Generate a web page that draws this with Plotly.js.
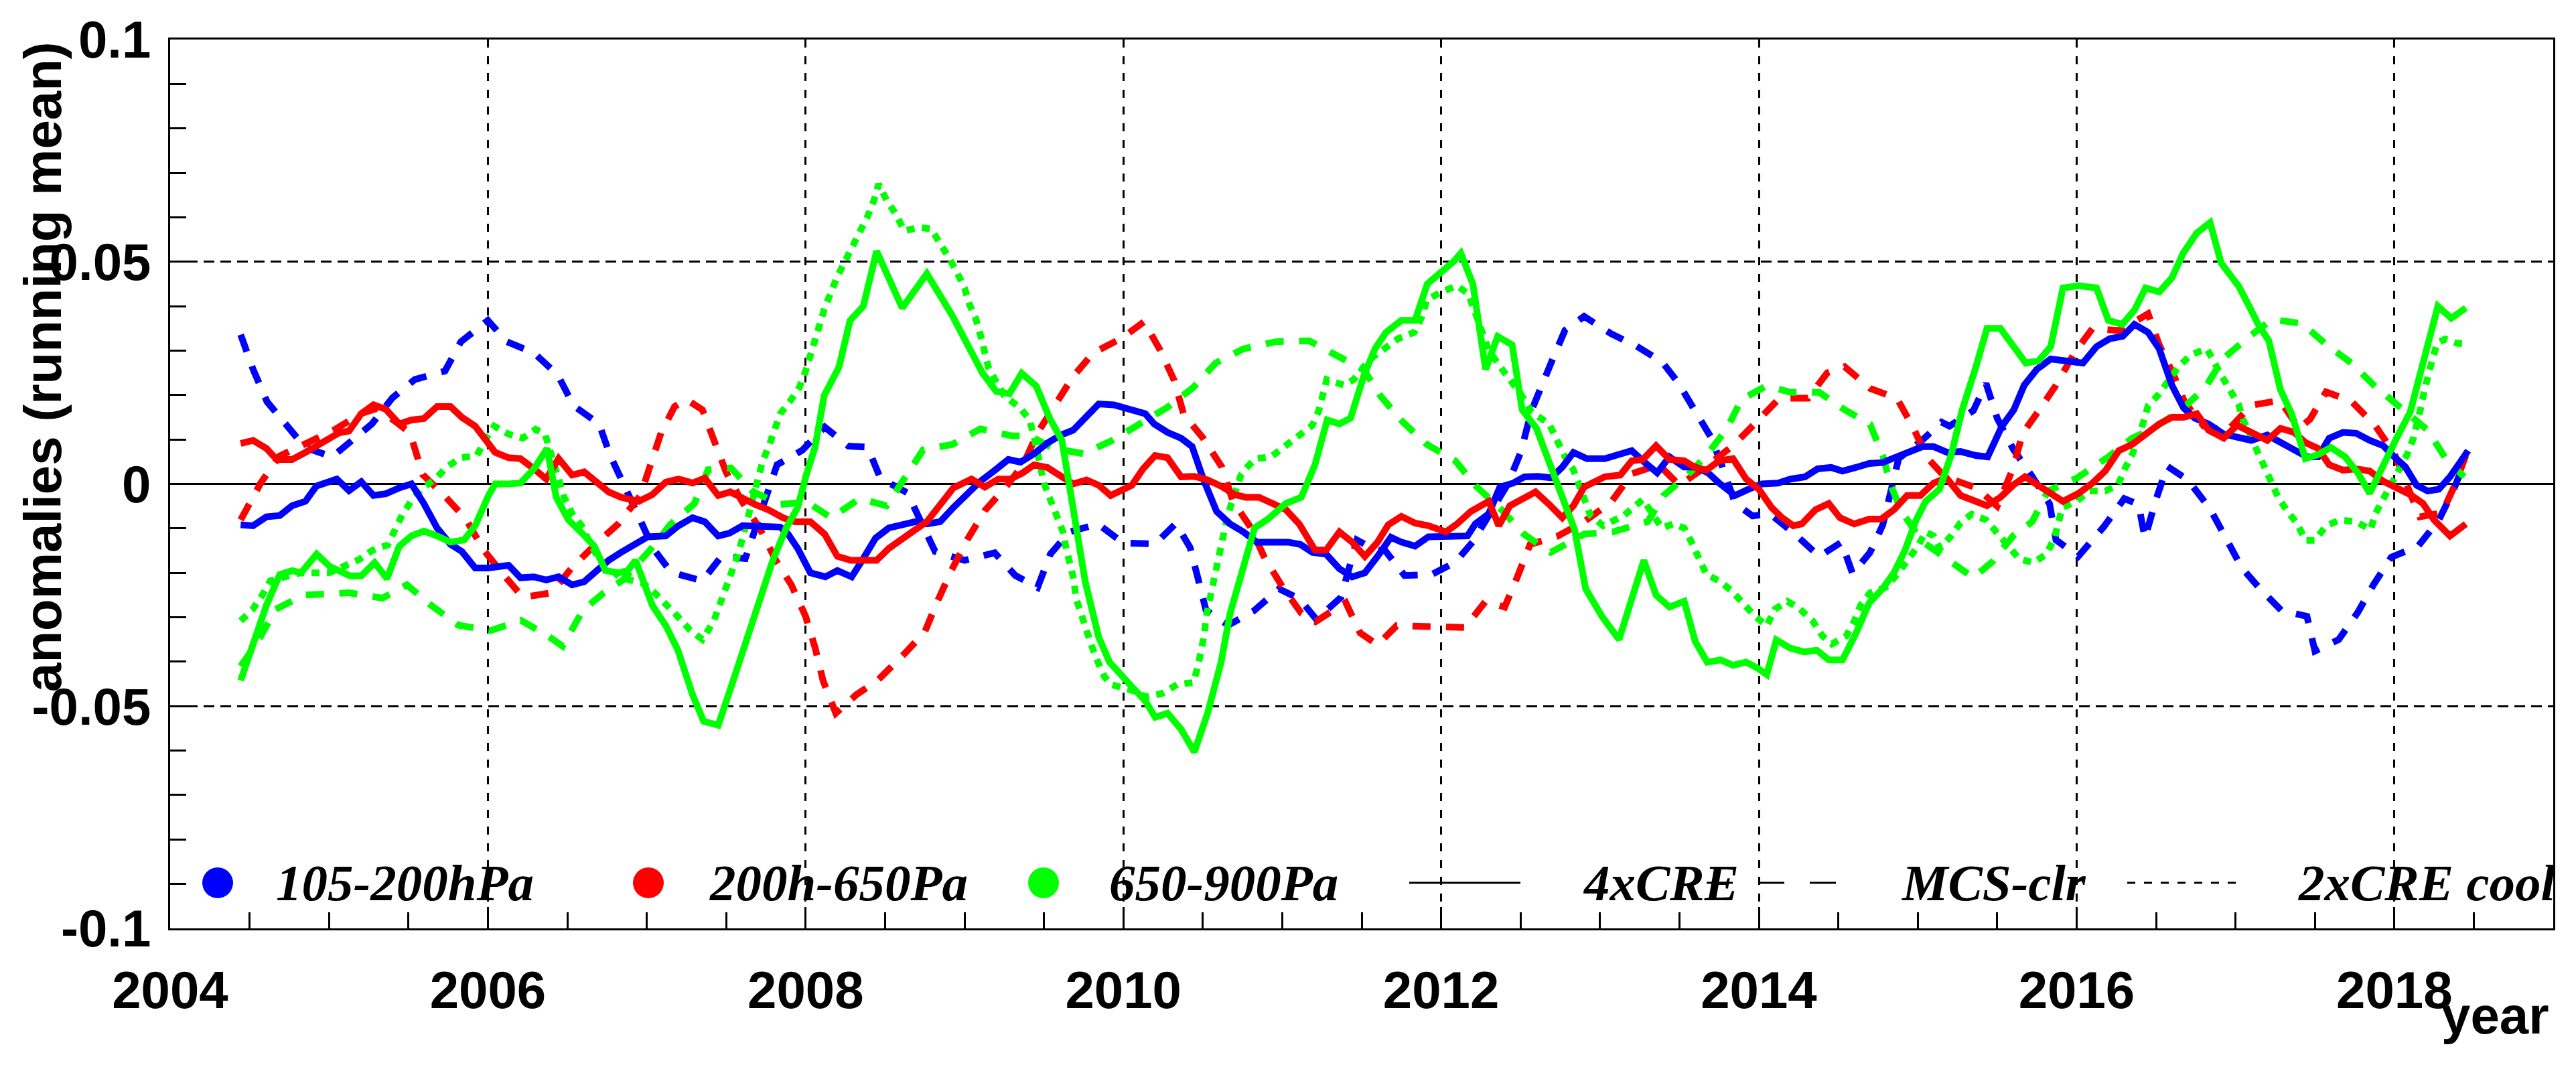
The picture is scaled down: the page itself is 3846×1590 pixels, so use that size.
<!DOCTYPE html>
<html>
<head>
<meta charset="utf-8">
<script src="https://cdn.plot.ly/plotly-3.0.1.min.js"></script>
<style>html,body{margin:0;padding:0;background:#fff;}#chart{width:3846px;height:1590px;}</style>
</head>
<body>
<div id="chart"></div>
<script>
// ---------- DATA (decimal year, anomaly) ----------
// 105-200hPa, 4xCRE (blue solid)
const x_b_cre = [2004.444,2004.522,2004.606,2004.69,2004.768,2004.852,2004.92,2005.049,2005.126,2005.203,2005.28,2005.358,2005.442,2005.519,2005.597,2005.68,2005.765,2005.836,2005.92,2006.0,2006.13,2006.205,2006.29,2006.367,2006.445,2006.53,2006.606,2006.683,2006.76,2006.838,2006.922,2007.006,2007.12,2007.2,2007.288,2007.365,2007.45,2007.52,2007.604,2007.68,2007.758,2007.84,2007.89,2007.95,2008.03,2008.124,2008.2,2008.29,2008.356,2008.44,2008.524,2008.608,2008.69,2008.763,2008.847,2008.93,2009.016,2009.1,2009.185,2009.276,2009.353,2009.438,2009.522,2009.606,2009.684,2009.76,2009.845,2009.94,2010.053,2010.138,2010.194,2010.278,2010.363,2010.433,2010.503,2010.587,2010.672,2010.756,2010.84,2010.94,2011.037,2011.114,2011.19,2011.276,2011.36,2011.44,2011.52,2011.6,2011.684,2011.75,2011.836,2011.92,2012.004,2012.09,2012.166,2012.215,2012.3,2012.37,2012.454,2012.524,2012.61,2012.693,2012.763,2012.833,2012.918,2013.03,2013.114,2013.2,2013.283,2013.36,2013.437,2013.53,2013.6,2013.68,2013.75,2013.85,2013.935,2014.02,2014.12,2014.2,2014.29,2014.37,2014.455,2014.526,2014.61,2014.694,2014.778,2014.863,2014.933,2015.03,2015.1,2015.186,2015.27,2015.366,2015.44,2015.53,2015.605,2015.67,2015.75,2015.837,2015.93,2016.04,2016.125,2016.21,2016.29,2016.364,2016.45,2016.52,2016.6,2016.673,2016.743,2016.83,2016.926,2017.02,2017.1,2017.2,2017.3,2017.38,2017.45,2017.52,2017.59,2017.677,2017.76,2017.845,2017.93,2018.0,2018.07,2018.14,2018.21,2018.28,2018.35,2018.42,2018.464];
const y_b_cre = [-0.0092,-0.0094,-0.0074,-0.0071,-0.0049,-0.0039,-0.0005,0.0011,-0.0015,0.0005,-0.0026,-0.0022,-0.0009,0.0,-0.0044,-0.0099,-0.0136,-0.0152,-0.0189,-0.0189,-0.0183,-0.0211,-0.0209,-0.0216,-0.0209,-0.0227,-0.022,-0.0195,-0.0172,-0.0154,-0.0137,-0.0119,-0.0117,-0.0094,-0.0076,-0.0085,-0.0117,-0.0111,-0.0094,-0.0094,-0.0094,-0.0097,-0.0113,-0.0145,-0.0200,-0.0209,-0.0195,-0.0209,-0.0172,-0.0122,-0.0099,-0.009,-0.0085,-0.009,-0.0085,-0.0053,-0.0024,0.0006,0.0029,0.0055,0.0049,0.0068,0.0092,0.011,0.0121,0.015,0.018,0.0178,0.0168,0.0158,0.0135,0.0116,0.0103,0.0084,0.0011,-0.0062,-0.009,-0.0108,-0.0131,-0.0131,-0.0131,-0.0136,-0.0154,-0.0158,-0.0191,-0.0209,-0.02,-0.0163,-0.012,-0.0131,-0.014,-0.0119,-0.0119,-0.0117,-0.0117,-0.009,-0.0067,-0.0007,0.0002,0.0016,0.0017,0.0014,0.0038,0.0071,0.0057,0.0057,0.0066,0.0075,0.0048,0.0025,0.0061,0.0038,0.0038,0.0025,0.0002,-0.0026,-0.0012,0.0,0.0002,0.0011,0.0016,0.0034,0.0037,0.0029,0.0037,0.0046,0.0048,0.0061,0.0071,0.0084,0.0084,0.0071,0.0073,0.0064,0.0061,0.013,0.0167,0.0222,0.0258,0.0281,0.0277,0.0272,0.0309,0.0327,0.0332,0.0359,0.0341,0.0304,0.0222,0.0171,0.0148,0.0135,0.0112,0.0103,0.0098,0.011,0.0089,0.0075,0.0061,0.0061,0.0103,0.0116,0.0114,0.0098,0.0086,0.0061,0.0038,-0.0003,-0.0016,-0.0012,0.0016,0.0052,0.0075];

// 200h-650Pa, 4xCRE (red solid)
const x_r_cre = [2004.444,2004.522,2004.606,2004.655,2004.69,2004.768,2004.852,2004.908,2004.978,2005.063,2005.126,2005.203,2005.28,2005.358,2005.442,2005.519,2005.597,2005.68,2005.765,2005.836,2005.92,2006.004,2006.046,2006.13,2006.205,2006.29,2006.367,2006.445,2006.53,2006.606,2006.683,2006.76,2006.838,2006.95,2007.035,2007.12,2007.2,2007.288,2007.365,2007.45,2007.526,2007.604,2007.68,2007.765,2007.857,2007.934,2008.03,2008.12,2008.2,2008.285,2008.37,2008.447,2008.524,2008.608,2008.69,2008.763,2008.847,2008.93,2009.044,2009.128,2009.213,2009.29,2009.367,2009.438,2009.522,2009.606,2009.684,2009.768,2009.845,2009.92,2010.01,2010.053,2010.124,2010.2,2010.278,2010.363,2010.447,2010.53,2010.615,2010.7,2010.77,2010.854,2010.94,2011.023,2011.107,2011.206,2011.276,2011.36,2011.44,2011.52,2011.6,2011.667,2011.75,2011.836,2011.92,2012.03,2012.1,2012.187,2012.3,2012.363,2012.433,2012.51,2012.594,2012.68,2012.763,2012.833,2012.9,2013.03,2013.128,2013.2,2013.27,2013.353,2013.437,2013.53,2013.6,2013.67,2013.75,2013.837,2013.92,2014.0,2014.08,2014.146,2014.216,2014.27,2014.357,2014.44,2014.51,2014.6,2014.694,2014.77,2014.85,2014.933,2015.017,2015.1,2015.18,2015.27,2015.35,2015.436,2015.52,2015.6,2015.675,2015.76,2015.837,2015.914,2016.013,2016.1,2016.18,2016.266,2016.35,2016.434,2016.52,2016.6,2016.673,2016.757,2016.83,2016.926,2017.01,2017.1,2017.2,2017.283,2017.37,2017.44,2017.52,2017.59,2017.677,2017.76,2017.845,2017.93,2018.014,2018.1,2018.18,2018.25,2018.35,2018.45];
const y_r_cre = [0.0091,0.0098,0.008,0.0061,0.0055,0.0055,0.0071,0.0082,0.0098,0.0115,0.0119,0.0158,0.0178,0.0168,0.0135,0.0144,0.0147,0.0174,0.0174,0.015,0.013,0.0093,0.0071,0.0059,0.0057,0.0034,0.0011,0.0057,0.002,0.0027,0.0002,-0.0018,-0.003,-0.0039,-0.0024,0.0004,0.0011,0.0002,0.0013,-0.0026,-0.0018,-0.0033,-0.0046,-0.0058,-0.0076,-0.0085,-0.0085,-0.0113,-0.0163,-0.0172,-0.0172,-0.0172,-0.0145,-0.0122,-0.0103,-0.0085,-0.0049,-0.0009,0.0011,-0.0007,0.0011,0.0011,0.0025,0.0043,0.0037,0.0016,0.0,0.0009,-0.0003,-0.0026,-0.0012,-0.0003,0.0034,0.0064,0.0059,0.0016,0.0017,0.0009,-0.0005,-0.0024,-0.003,-0.003,-0.0044,-0.0058,-0.009,-0.0149,-0.0149,-0.0108,-0.0131,-0.0163,-0.0131,-0.0092,-0.0073,-0.0088,-0.0094,-0.0108,-0.009,-0.0062,-0.0039,-0.0094,-0.0049,-0.0033,-0.0018,-0.0046,-0.0076,-0.0049,-0.0007,0.0016,0.002,0.0052,0.0055,0.0086,0.0055,0.0052,0.0037,0.0031,0.0052,0.0057,0.0011,-0.0012,-0.0053,-0.0076,-0.0094,-0.009,-0.0058,-0.0044,-0.0076,-0.009,-0.0079,-0.0079,-0.0058,-0.0026,-0.0026,0.0002,0.0014,-0.0026,-0.0039,-0.0049,-0.003,-0.0003,0.0016,-0.0003,-0.0021,-0.0039,-0.0021,0.0002,0.0029,0.0075,0.0089,0.0112,0.0135,0.015,0.015,0.0158,0.0121,0.0103,0.0132,0.0116,0.0098,0.0125,0.0116,0.0093,0.008,0.0043,0.0031,0.0034,0.0029,0.0006,-0.0007,-0.0024,-0.0044,-0.0081,-0.0117,-0.009];

// 650-900Pa, 4xCRE (green solid)
const x_g_cre = [2004.444,2004.522,2004.606,2004.69,2004.768,2004.824,2004.922,2005.006,2005.077,2005.133,2005.203,2005.287,2005.365,2005.442,2005.519,2005.597,2005.68,2005.765,2005.85,2005.92,2006.004,2006.046,2006.13,2006.205,2006.29,2006.373,2006.43,2006.507,2006.585,2006.67,2006.74,2006.824,2006.88,2006.93,2007.035,2007.12,2007.196,2007.288,2007.358,2007.45,2007.54,2007.625,2007.71,2007.793,2007.878,2007.95,2008.004,2008.06,2008.117,2008.21,2008.28,2008.363,2008.447,2008.608,2008.763,2008.918,2009.114,2009.2,2009.283,2009.36,2009.452,2009.536,2009.613,2009.69,2009.76,2009.845,2009.913,2010.053,2010.138,2010.2,2010.278,2010.363,2010.447,2010.53,2010.615,2010.672,2010.756,2010.826,2010.91,2011.023,2011.12,2011.206,2011.283,2011.36,2011.43,2011.515,2011.585,2011.653,2011.75,2011.836,2011.913,2012.0,2012.08,2012.124,2012.2,2012.28,2012.356,2012.447,2012.51,2012.6,2012.693,2012.79,2012.84,2012.91,2013.016,2013.12,2013.276,2013.353,2013.437,2013.53,2013.6,2013.675,2013.76,2013.837,2013.92,2013.99,2014.05,2014.11,2014.195,2014.287,2014.364,2014.44,2014.526,2014.61,2014.694,2014.778,2014.85,2014.92,2014.99,2015.05,2015.137,2015.21,2015.28,2015.366,2015.436,2015.52,2015.605,2015.68,2015.76,2015.837,2015.914,2016.013,2016.125,2016.2,2016.287,2016.364,2016.434,2016.52,2016.6,2016.67,2016.757,2016.84,2016.91,2017.02,2017.086,2017.143,2017.21,2017.283,2017.353,2017.44,2017.52,2017.6,2017.69,2017.77,2017.845,2017.93,2018.014,2018.1,2018.18,2018.23,2018.274,2018.358,2018.45];
const y_g_cre = [-0.0442,-0.0355,-0.0273,-0.0204,-0.0195,-0.02,-0.0158,-0.0186,-0.02,-0.0207,-0.0207,-0.0177,-0.0213,-0.014,-0.0117,-0.0106,-0.0117,-0.0131,-0.0126,-0.0094,-0.0026,0.0,0.0,0.0002,0.0034,0.008,-0.003,-0.0081,-0.0108,-0.014,-0.0195,-0.02,-0.0195,-0.0172,-0.0273,-0.0319,-0.0374,-0.0474,-0.0534,-0.0543,-0.0447,-0.0355,-0.0264,-0.0172,-0.0099,-0.0053,0.002,0.0084,0.0199,0.0263,0.0368,0.04,0.0524,0.0396,0.0473,0.0382,0.0249,0.0208,0.0203,0.0249,0.022,0.0148,0.0098,-0.0062,-0.022,-0.0345,-0.0401,-0.0456,-0.0488,-0.0525,-0.0516,-0.0552,-0.0603,-0.0516,-0.0401,-0.0291,-0.019,-0.0099,-0.0079,-0.0044,-0.003,0.0043,0.0144,0.0135,0.0148,0.0245,0.0305,0.0341,0.0368,0.0368,0.045,0.0475,0.0501,0.0519,0.045,0.0258,0.0332,0.0313,0.0167,0.0125,0.0038,-0.0062,-0.0103,-0.0236,-0.03,-0.035,-0.0172,-0.025,-0.0277,-0.0264,-0.0355,-0.0401,-0.0396,-0.0408,-0.0401,-0.0414,-0.0429,-0.0351,-0.0369,-0.0378,-0.0374,-0.0396,-0.0396,-0.0337,-0.0268,-0.0236,-0.02,-0.0149,-0.0081,-0.0039,-0.0012,0.0065,0.0167,0.0263,0.035,0.035,0.0309,0.0272,0.0277,0.0309,0.0441,0.0446,0.0441,0.0368,0.0359,0.0391,0.0441,0.0432,0.0464,0.0519,0.0565,0.0588,0.0497,0.0445,0.04,0.0359,0.0322,0.0212,0.0158,0.0057,0.0066,0.0082,0.0061,0.0025,-0.0021,0.0043,0.0103,0.0162,0.0267,0.0332,0.04,0.0373,0.0396];

// 105-200hPa, MCS-clr (blue dashed)
const x_b_mcs = [2004.444,2004.522,2004.61,2004.729,2004.85,2005.02,2005.15,2005.27,2005.4,2005.54,2005.73,2005.83,2006.0,2006.12,2006.29,2006.44,2006.54,2006.7,2006.77,2006.86,2006.95,2007.04,2007.154,2007.35,2007.47,2007.62,2007.75,2007.82,2007.98,2008.12,2008.27,2008.39,2008.47,2008.64,2008.815,2009.0,2009.19,2009.32,2009.46,2009.54,2009.66,2009.84,2010.0,2010.2,2010.33,2010.42,2010.47,2010.52,2010.66,2010.82,2010.98,2011.11,2011.215,2011.37,2011.47,2011.58,2011.65,2011.77,2011.94,2012.09,2012.2,2012.3,2012.42,2012.5,2012.57,2012.7,2012.78,2012.9,2013.07,2013.23,2013.39,2013.49,2013.597,2013.7,2013.77,2013.85,2013.96,2014.07,2014.23,2014.38,2014.52,2014.59,2014.7,2014.78,2014.88,2015.03,2015.15,2015.2,2015.35,2015.43,2015.5,2015.6,2015.72,2015.83,2015.87,2016.01,2016.17,2016.3,2016.39,2016.43,2016.5,2016.57,2016.7,2016.84,2016.94,2017.04,2017.15,2017.29,2017.45,2017.5,2017.65,2017.77,2017.87,2017.98,2018.15,2018.28,2018.37,2018.45];
const y_b_mcs = [0.0336,0.0258,0.0185,0.0135,0.0082,0.0061,0.0098,0.0135,0.0194,0.0235,0.0254,0.032,0.0368,0.032,0.0295,0.0245,0.0176,0.0135,0.0064,-0.0002,-0.0074,-0.0145,-0.0199,-0.0218,-0.0163,-0.0168,-0.0037,0.0043,0.0076,0.0128,0.0085,0.0083,0.0013,-0.002,-0.0152,-0.0172,-0.0155,-0.0206,-0.0233,-0.0158,-0.0108,-0.009,-0.0133,-0.0135,-0.0089,-0.0143,-0.0213,-0.0284,-0.0318,-0.0286,-0.0236,-0.0259,-0.0305,-0.0255,-0.0126,-0.0148,-0.0151,-0.0206,-0.0204,-0.0176,-0.013,-0.007,0.0,0.007,0.0166,0.0279,0.0346,0.0377,0.0338,0.031,0.0275,0.0229,0.0163,0.0104,0.0039,-0.0043,-0.0072,-0.0067,-0.0114,-0.0163,-0.0131,-0.0202,-0.0154,-0.0092,0.0057,0.0099,0.0139,0.013,0.0165,0.0226,0.0148,0.0079,0.0017,-0.0045,-0.0126,-0.0163,-0.0097,-0.0033,-0.0046,-0.0122,-0.0035,0.004,0.0009,-0.0056,-0.0122,-0.0189,-0.0234,-0.0285,-0.0298,-0.0376,-0.035,-0.0289,-0.0226,-0.0165,-0.014,-0.0081,-0.0016,0.0057];

// 200h-650Pa, MCS-clr (red dashed)
const x_r_mcs = [2004.444,2004.57,2004.69,2004.85,2005.03,2005.2,2005.3,2005.42,2005.51,2005.59,2005.72,2005.86,2005.97,2006.1,2006.22,2006.4,2006.53,2006.68,2006.82,2006.96,2007.02,2007.09,2007.175,2007.25,2007.35,2007.425,2007.5,2007.6,2007.71,2007.81,2007.91,2008.0,2008.06,2008.11,2008.19,2008.32,2008.45,2008.62,2008.75,2008.83,2008.92,2009.02,2009.13,2009.26,2009.37,2009.46,2009.57,2009.68,2009.81,2009.99,2010.13,2010.23,2010.32,2010.38,2010.5,2010.62,2010.69,2010.8,2010.89,2011.0,2011.12,2011.21,2011.3,2011.4,2011.49,2011.6,2011.72,2011.96,2012.15,2012.28,2012.4,2012.48,2012.56,2012.73,2012.9,2013.07,2013.2,2013.37,2013.5,2013.67,2013.84,2013.97,2014.13,2014.31,2014.43,2014.54,2014.7,2014.87,2014.97,2015.06,2015.17,2015.37,2015.5,2015.6,2015.66,2015.76,2015.87,2015.99,2016.1,2016.27,2016.45,2016.52,2016.61,2016.68,2016.8,2016.95,2017.1,2017.28,2017.4,2017.47,2017.57,2017.73,2017.88,2018.0,2018.08,2018.16,2018.3,2018.38,2018.45];
const y_r_mcs = [-0.0081,0.0002,0.0063,0.0091,0.0121,0.0158,0.017,0.014,0.0115,0.0021,-0.0024,-0.0078,-0.0147,-0.0205,-0.0255,-0.0245,-0.0188,-0.0135,-0.009,-0.0026,0.0038,0.0115,0.0174,0.019,0.0167,0.0098,0.0026,-0.004,-0.0099,-0.017,-0.0227,-0.0298,-0.0369,-0.0443,-0.0516,-0.0474,-0.0443,-0.0383,-0.0333,-0.0264,-0.0193,-0.0124,-0.0059,-0.0007,0.0044,0.0115,0.0176,0.024,0.0295,0.0328,0.0365,0.0302,0.0233,0.0156,0.0104,0.0038,-0.0039,-0.0097,-0.0167,-0.0231,-0.0291,-0.031,-0.0289,-0.0267,-0.0335,-0.0362,-0.0319,-0.0323,-0.0323,-0.0264,-0.0277,-0.0209,-0.0136,-0.0118,-0.0085,-0.0041,0.0023,0.0043,-0.0003,0.004,0.0087,0.0134,0.0193,0.0193,0.025,0.0264,0.0215,0.0192,0.0128,0.0059,0.0016,-0.0009,-0.005,0.0035,0.0114,0.0164,0.0222,0.0297,0.035,0.0345,0.0383,0.0313,0.0246,0.0184,0.013,0.012,0.0177,0.0188,0.0125,0.0146,0.0207,0.0186,0.0131,0.0068,0.0,-0.0074,-0.0065,-0.0003,0.0064];

// 650-900Pa, MCS-clr (green dashed)
const x_g_mcs = [2004.444,2004.55,2004.664,2004.845,2005.126,2005.336,2005.49,2005.65,2005.815,2006.018,2006.208,2006.37,2006.47,2006.6,2006.73,2006.85,2007.02,2007.147,2007.3,2007.386,2007.53,2007.667,2007.84,2008.01,2008.16,2008.34,2008.51,2008.625,2008.74,2008.925,2009.1,2009.3,2009.41,2009.56,2009.75,2009.93,2010.1,2010.28,2010.44,2010.58,2010.756,2010.96,2011.17,2011.33,2011.515,2011.62,2011.76,2011.91,2012.09,2012.22,2012.38,2012.52,2012.69,2012.9,2013.08,2013.3,2013.4,2013.54,2013.67,2013.8,2013.89,2014.05,2014.2,2014.38,2014.54,2014.7,2014.78,2014.83,2014.9,2015.03,2015.18,2015.35,2015.47,2015.6,2015.72,2015.82,2016.0,2016.2,2016.35,2016.48,2016.66,2016.81,2016.92,2017.08,2017.23,2017.42,2017.58,2017.73,2017.88,2018.05,2018.21,2018.33,2018.44];
const y_g_mcs = [-0.041,-0.0356,-0.0282,-0.025,-0.0245,-0.0257,-0.0227,-0.0275,-0.0318,-0.033,-0.0307,-0.034,-0.0365,-0.0283,-0.0245,-0.0216,-0.0149,-0.0092,-0.0044,0.0032,0.0036,-0.0017,-0.0046,-0.0041,-0.0076,-0.0033,-0.0049,0.0016,0.0077,0.0089,0.0124,0.0108,0.0108,0.008,0.0068,0.0098,0.0134,0.0173,0.0217,0.0272,0.0304,0.032,0.0322,0.0291,0.0256,0.0197,0.0139,0.0089,0.0052,-0.0005,-0.0058,-0.0113,-0.0154,-0.0113,-0.0108,-0.0085,-0.0026,0.0016,0.0064,0.0125,0.019,0.0221,0.0206,0.0206,0.0167,0.0134,0.0064,-0.0003,-0.0063,-0.013,-0.017,-0.0211,-0.0175,-0.0117,-0.0085,-0.0016,0.0013,0.0061,0.0103,0.0124,0.0167,0.0217,0.0281,0.033,0.037,0.0361,0.0311,0.0272,0.0219,0.0169,0.0121,0.0053,0.0016];

// 650-900Pa, 2xCRE cool (green dotted)
const x_g_cool = [2004.444,2004.52,2004.58,2004.63,2004.82,2005.0,2005.19,2005.27,2005.37,2005.41,2005.46,2005.52,2005.59,2005.67,2005.74,2005.83,2005.93,2005.98,2006.04,2006.13,2006.22,2006.3,2006.36,2006.42,2006.48,2006.53,2006.59,2006.64,2006.7,2006.83,2006.98,2007.05,2007.13,2007.2,2007.27,2007.35,2007.42,2007.46,2007.49,2007.53,2007.57,2007.6,2007.65,2007.7,2007.73,2007.77,2007.8,2007.84,2007.91,2007.96,2008.0,2008.06,2008.12,2008.2,2008.25,2008.3,2008.35,2008.39,2008.43,2008.46,2008.51,2008.57,2008.62,2008.72,2008.79,2008.84,2008.9,2008.95,2009.0,2009.03,2009.07,2009.1,2009.13,2009.15,2009.2,2009.25,2009.35,2009.41,2009.44,2009.48,2009.5,2009.54,2009.58,2009.62,2009.64,2009.67,2009.69,2009.7,2009.73,2009.77,2009.8,2009.84,2009.88,2009.92,2010.06,2010.14,2010.24,2010.34,2010.44,2010.47,2010.49,2010.51,2010.52,2010.54,2010.56,2010.58,2010.61,2010.62,2010.65,2010.68,2010.71,2010.74,2010.78,2010.83,2010.93,2011.02,2011.1,2011.19,2011.23,2011.26,2011.28,2011.39,2011.45,2011.55,2011.67,2011.73,2011.83,2011.88,2011.91,2012.0,2012.1,2012.17,2012.22,2012.3,2012.4,2012.5,2012.57,2012.68,2012.73,2012.78,2012.83,2012.87,2012.94,2013.02,2013.15,2013.27,2013.39,2013.46,2013.53,2013.58,2013.62,2013.67,2013.75,2013.83,2013.9,2013.97,2014.05,2014.1,2014.18,2014.26,2014.34,2014.4,2014.46,2014.55,2014.6,2014.64,2014.7,2014.8,2014.87,2014.94,2015.0,2015.05,2015.1,2015.14,2015.21,2015.27,2015.34,2015.43,2015.51,2015.57,2015.64,2015.73,2015.81,2015.86,2015.88,2015.91,2016.0,2016.08,2016.18,2016.26,2016.3,2016.35,2016.42,2016.45,2016.52,2016.58,2016.64,2016.72,2016.82,2016.91,2016.96,2017.02,2017.05,2017.09,2017.14,2017.19,2017.23,2017.27,2017.33,2017.39,2017.44,2017.5,2017.57,2017.66,2017.76,2017.85,2017.88,2017.93,2017.98,2018.03,2018.08,2018.12,2018.15,2018.17,2018.19,2018.21,2018.24,2018.27,2018.32,2018.4,2018.45];
const y_g_cool = [-0.0308,-0.0282,-0.025,-0.0218,-0.02,-0.02,-0.017,-0.015,-0.0137,-0.0103,-0.007,-0.0037,-0.0009,0.0011,0.0038,0.0059,0.0064,0.0097,0.013,0.0112,0.0103,0.0123,0.0112,0.0041,-0.003,-0.0067,-0.0094,-0.0131,-0.017,-0.021,-0.0224,-0.0245,-0.0273,-0.03,-0.0328,-0.035,-0.031,-0.0273,-0.0236,-0.02,-0.0163,-0.0126,-0.0058,0.0016,0.0052,0.0086,0.012,0.0158,0.019,0.0217,0.0254,0.0322,0.0396,0.0467,0.0504,0.0538,0.057,0.0602,0.0638,0.0675,0.0638,0.0606,0.057,0.0577,0.0574,0.0547,0.051,0.0478,0.0441,0.0405,0.0373,0.0336,0.0299,0.0263,0.023,0.0199,0.0171,0.0144,0.0103,0.0038,0.0002,-0.0035,-0.0071,-0.0108,-0.0145,-0.0181,-0.0218,-0.0255,-0.0291,-0.0328,-0.0364,-0.0401,-0.0433,-0.0451,-0.0465,-0.0479,-0.0472,-0.0451,-0.0447,-0.041,-0.0374,-0.0337,-0.03,-0.0264,-0.0227,-0.019,-0.0154,-0.0117,-0.0081,-0.0044,-0.0012,0.002,0.0038,0.0057,0.0061,0.0084,0.0107,0.0132,0.0165,0.0201,0.0235,0.0222,0.0235,0.028,0.0309,0.0327,0.0341,0.0377,0.0414,0.0432,0.0446,0.0428,0.038,0.03,0.025,0.0203,0.0162,0.0135,0.0098,0.0061,0.0034,-0.0003,-0.0071,-0.0094,-0.0071,-0.0035,-0.0099,-0.009,-0.0099,-0.0134,-0.0168,-0.0204,-0.0218,-0.0241,-0.0268,-0.0296,-0.0319,-0.0282,-0.0264,-0.0282,-0.0309,-0.0342,-0.036,-0.0342,-0.0309,-0.0273,-0.0245,-0.0232,-0.0204,-0.0172,-0.014,-0.0108,-0.0117,-0.0145,-0.0117,-0.0087,-0.0068,-0.0081,-0.0113,-0.0142,-0.0169,-0.0177,-0.0158,-0.0122,-0.0087,-0.0053,-0.0039,-0.0016,-0.0016,-0.0003,0.0032,0.0066,0.0139,0.0176,0.0203,0.0235,0.0263,0.0291,0.0304,0.0245,0.0212,0.0178,0.0143,0.0111,0.0075,0.0037,0.0005,-0.0031,-0.0063,-0.009,-0.0127,-0.0127,-0.0094,-0.0081,-0.0085,-0.0103,-0.0067,-0.0035,0.0,0.0034,0.0066,0.0103,0.0139,0.0176,0.0212,0.0245,0.0281,0.0317,0.0326,0.0316,0.0316];

// axis ticks
const xTickVals = [2004,2006,2008,2010,2012,2014,2016,2018];
const yTickVals = [-0.1,-0.05,0,0.05,0.1];
const yTickText = ['-0.1','-0.05','0','0.05','0.1'];

// legend labels
const legendColorNames = ['105-200hPa','200h-650Pa','650-900Pa'];
const legendStyleNames = ['4xCRE','MCS-clr','2xCRE cool'];

// ---------- STYLES ----------
const BLUE = '#0000ff', RED = '#ff0000', GREEN = '#00ff00';
const LW = 10;
const DASHED = '27px,23px';
const DOTTED = '12px,11px';

function tr(x, y, color, dash) {
  return {x: x, y: y, type: 'scatter', mode: 'lines', hoverinfo: 'skip',
    line: {color: color, width: LW, dash: dash}, showlegend: false};
}

const data = [
  tr(x_b_mcs, y_b_mcs, BLUE, DASHED),
  tr(x_r_mcs, y_r_mcs, RED, DASHED),
  tr(x_g_mcs, y_g_mcs, GREEN, DASHED),
  tr(x_g_cool, y_g_cool, GREEN, DOTTED),
  tr(x_b_cre, y_b_cre, BLUE, 'solid'),
  tr(x_r_cre, y_r_cre, RED, 'solid'),
  tr(x_g_cre, y_g_cre, GREEN, 'solid')
];

// pixel -> paper helpers (plot area l=254, r=3812, t=59, b=1386)
const PL = 254, PR = 3812, PT = 59, PB = 1386;
const xp = px => (px - PL) / (PR - PL);
const yp = py => (PB - py) / (PB - PT);

const tickFont = {family: 'Liberation Sans, Arial, sans-serif', size: 78, color: '#000', weight: 'bold'};
const legFont = {family: 'Liberation Serif, Times New Roman, serif', size: 77, color: '#000', style: 'italic', weight: 'bold'};

const shapes = [];
const annotations = [];
const LEGY = 1318;
const dotCenters = [325, 968, 1558];
const dotColors = [BLUE, RED, GREEN];
const colorTextX = [410, 1057, 1654];
for (let i = 0; i < 3; i++) {
  shapes.push({type: 'circle', xref: 'paper', yref: 'paper',
    x0: xp(dotCenters[i] - 23), x1: xp(dotCenters[i] + 23),
    y0: yp(LEGY + 23), y1: yp(LEGY - 23),
    fillcolor: dotColors[i], line: {width: 0}});
  annotations.push({xref: 'paper', yref: 'paper', x: xp(colorTextX[i]), y: yp(LEGY),
    xanchor: 'left', yanchor: 'middle', text: legendColorNames[i], showarrow: false, font: legFont});
}
const lineSamples = [[2104, 2270, 'solid'], [2548, 2745, '39px,38px'], [3176, 3342, '12px,13px']];
const styleTextX = [2361, 2836, 3429];
for (let i = 0; i < 3; i++) {
  shapes.push({type: 'line', xref: 'paper', yref: 'paper',
    x0: xp(lineSamples[i][0]), x1: xp(lineSamples[i][1]), y0: yp(LEGY), y1: yp(LEGY),
    line: {color: '#000', width: 3, dash: lineSamples[i][2]}});
  annotations.push({xref: 'paper', yref: 'paper', x: xp(styleTextX[i]), y: yp(LEGY),
    xanchor: 'left', yanchor: 'middle', text: legendStyleNames[i], showarrow: false, font: legFont});
}
// axis titles
annotations.push({xref: 'paper', yref: 'paper', x: xp(64), y: yp(548), xanchor: 'center', yanchor: 'middle',
  textangle: -90, text: 'anomalies (running mean)', showarrow: false, font: tickFont});
annotations.push({xref: 'paper', yref: 'paper', x: xp(3808), y: yp(1470), xanchor: 'right', yanchor: 'top',
  text: 'year', showarrow: false, font: tickFont});

const layout = {
  width: 3846, height: 1590,
  margin: {l: PL, r: 3846 - PR, t: PT, b: 1590 - PB, pad: 0},
  paper_bgcolor: '#fff', plot_bgcolor: '#fff',
  showlegend: false,
  xaxis: {
    range: [2004, 2019], tickmode: 'array', tickvals: xTickVals,
    ticks: 'inside', ticklen: 32, tickwidth: 3, tickcolor: '#000',
    minor: {dtick: 0.5, tick0: 2004, ticks: 'inside', ticklen: 24, tickwidth: 3, tickcolor: '#000', showgrid: false},
    showgrid: true, gridcolor: '#000', gridwidth: 3, griddash: '12px,13px',
    showline: true, linecolor: '#000', linewidth: 3, mirror: true,
    zeroline: false, tickfont: tickFont, ticklabelstandoff: 22
  },
  yaxis: {
    range: [-0.1, 0.1], tickmode: 'array', tickvals: yTickVals, ticktext: yTickText,
    ticks: 'inside', ticklen: 32, tickwidth: 3, tickcolor: '#000',
    minor: {dtick: 0.01, tick0: 0, ticks: 'inside', ticklen: 24, tickwidth: 3, tickcolor: '#000', showgrid: false},
    showgrid: true, gridcolor: '#000', gridwidth: 3, griddash: '16px,9px',
    showline: true, linecolor: '#000', linewidth: 3, mirror: true,
    zeroline: true, zerolinecolor: '#000', zerolinewidth: 3,
    tickfont: tickFont, ticklabelstandoff: 10
  },
  shapes: shapes,
  annotations: annotations
};

Plotly.newPlot('chart', data, layout, {displayModeBar: false, staticPlot: true});
</script>
</body>
</html>
